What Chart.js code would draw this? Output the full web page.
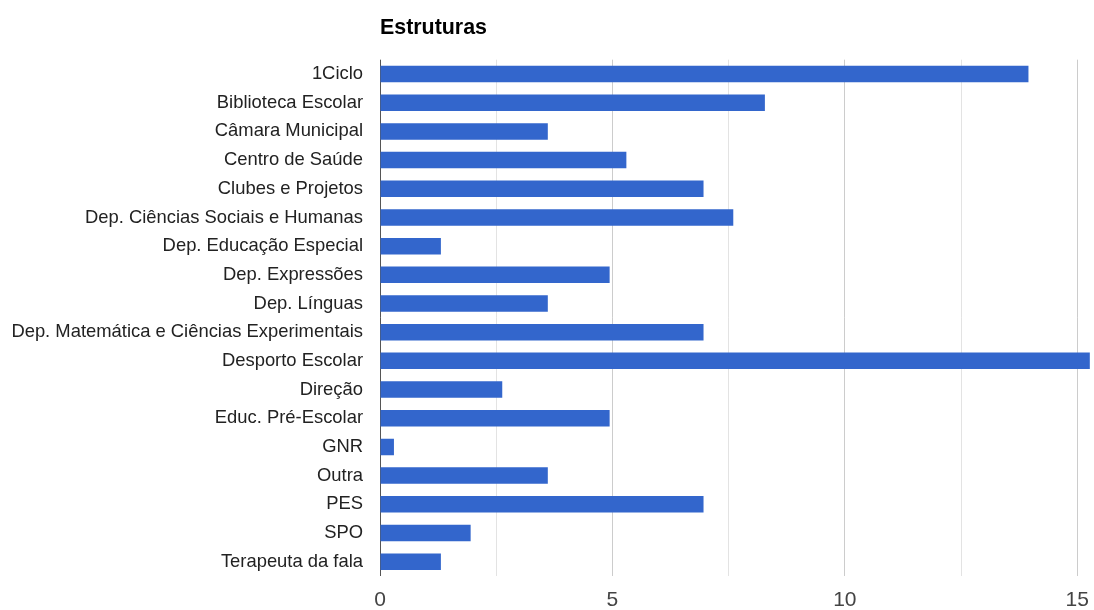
<!DOCTYPE html>
<html>
<head>
<meta charset="utf-8">
<script src="https://cdn.jsdelivr.net/npm/chart.js@4"></script>
<style>
html,body{margin:0;padding:0;background:#fff;}
canvas{display:block;}
</style>
</head>
<body>
<canvas id="c" width="1094" height="610"></canvas>
<script>
const chartTitle = 'Estruturas';
const categories = [
  '1Ciclo',
  'Biblioteca Escolar',
  'Câmara Municipal',
  'Centro de Saúde',
  'Clubes e Projetos',
  'Dep. Ciências Sociais e Humanas',
  'Dep. Educação Especial',
  'Dep. Expressões',
  'Dep. Línguas',
  'Dep. Matemática e Ciências Experimentais',
  'Desporto Escolar',
  'Direção',
  'Educ. Pré-Escolar',
  'GNR',
  'Outra',
  'PES',
  'SPO',
  'Terapeuta da fala'
];
const values = [13.95, 8.28, 3.61, 5.30, 6.96, 7.60, 1.31, 4.94, 3.61, 6.96, 15.27, 2.63, 4.94, 0.30, 3.61, 6.96, 1.95, 1.31];
const gridTicks = [0, 2.5, 5, 7.5, 10, 12.5, 15];
const labeledTicks = [0, 5, 10, 15];
const axisMin = 0;
const axisMax = 15.36;

const FONT = "'Liberation Sans', Arial, sans-serif";

new Chart(document.getElementById('c'), {
  type: 'bar',
  data: {
    labels: categories,
    datasets: [{
      data: values,
      backgroundColor: '#3366cc',
      borderWidth: 0,
      categoryPercentage: 1,
      barPercentage: 0.575
    }]
  },
  options: {
    indexAxis: 'y',
    responsive: false,
    maintainAspectRatio: false,
    animation: false,
    layout: { padding: { left: 0, right: 0, top: 0, bottom: 0 } },
    plugins: {
      legend: { display: false },
      tooltip: { enabled: false },
      title: {
        display: true,
        text: chartTitle,
        align: 'start',
        fullSize: false,
        color: '#000',
        font: { family: FONT, size: 21.4, weight: 'bold' },
        padding: { top: 15, bottom: 19 }
      }
    },
    scales: {
      x: {
        type: 'linear',
        min: axisMin,
        max: axisMax,
        afterBuildTicks: (scale) => { scale.ticks = gridTicks.map(v => ({ value: v })); },
        afterFit: (scale) => { scale.height = 34; scale.paddingRight = 0; },
        border: { display: false },
        grid: {
          drawTicks: false,
          color: (ctx) => {
            const v = ctx.tick ? ctx.tick.value : null;
            if (v === 0) return '#555555';
            if (labeledTicks.includes(v)) return '#cccccc';
            return '#e3e3e3';
          },
          lineWidth: 1
        },
        ticks: {
          autoSkip: false,
          maxRotation: 0,
          padding: 12,
          color: '#444',
          font: { family: FONT, size: 21 },
          callback: (v) => labeledTicks.includes(v) ? String(v) : ''
        }
      },
      y: {
        afterFit: (scale) => { scale.width = 380; },
        border: { display: false },
        grid: { display: false, drawTicks: false },
        ticks: {
          autoSkip: false,
          padding: 17,
          color: '#222',
          font: { family: FONT, size: 18.4 }
        }
      }
    }
  }
});
</script>
</body>
</html>
